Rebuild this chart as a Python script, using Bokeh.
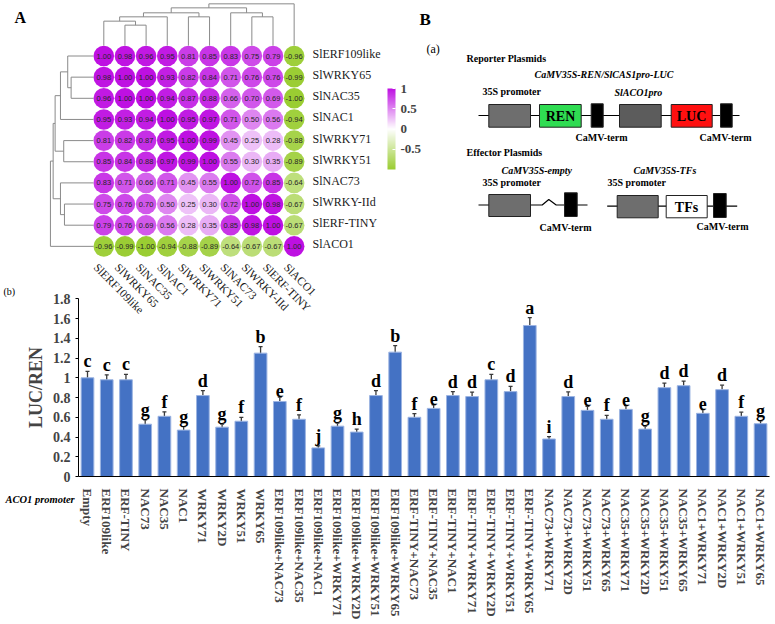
import numpy as np
from bokeh.plotting import figure
from bokeh.models import (Range1d, ColumnDataSource, Whisker, TeeHead, ColorBar,
                          LinearColorMapper, FixedTicker)
from bokeh.layouts import row, column
from bokeh.core.properties import value
from bokeh.embed import file_html
from bokeh.resources import INLINE

# ---------------- data: correlation heatmap ----------------
genes = ["SlERF109like", "SlWRKY65", "SlNAC35", "SlNAC1", "SlWRKY71",
         "SlWRKY51", "SlNAC73", "SlWRKY-IId", "SlERF-TINY", "SlACO1"]
corr = [
    [1.00, 0.98, 0.96, 0.95, 0.81, 0.85, 0.83, 0.75, 0.79, -0.96],
    [0.98, 1.00, 1.00, 0.93, 0.82, 0.84, 0.71, 0.76, 0.76, -0.99],
    [0.96, 1.00, 1.00, 0.94, 0.87, 0.88, 0.66, 0.70, 0.69, -1.00],
    [0.95, 0.93, 0.94, 1.00, 0.95, 0.97, 0.71, 0.50, 0.56, -0.94],
    [0.81, 0.82, 0.87, 0.95, 1.00, 0.99, 0.45, 0.25, 0.28, -0.88],
    [0.85, 0.84, 0.88, 0.97, 0.99, 1.00, 0.55, 0.30, 0.35, -0.89],
    [0.83, 0.71, 0.66, 0.71, 0.45, 0.55, 1.00, 0.72, 0.85, -0.64],
    [0.75, 0.76, 0.70, 0.50, 0.25, 0.30, 0.72, 1.00, 0.98, -0.67],
    [0.79, 0.76, 0.69, 0.56, 0.28, 0.35, 0.85, 0.98, 1.00, -0.67],
    [-0.96, -0.99, -1.00, -0.94, -0.88, -0.89, -0.64, -0.67, -0.67, 1.00],
]
# hierarchical clustering: merges (leaves 0-9, merged nodes 10+), relative heights
link_pairs = [(1, 2), (0, 10), (11, 3), (4, 5), (12, 13), (7, 8), (6, 15), (14, 16), (17, 9)]
col_link_heights = [0.49, 0.586, 0.689, 0.689, 0.785, 0.689, 0.785, 0.904, 1.0]
row_link_heights = [0.519, 0.598, 0.767, 0.691, 0.891, 0.674, 0.767, 0.937, 1.0]
cbar_ticks = [-0.5, 0, 0.5, 1]
cbar_labels = ["-0.5", "0", "0.5", "1"]

# ---------------- data: dual-luciferase bars ----------------
constructs = ["Empty", "ERF109like", "ERF-TINY", "NAC73", "NAC35", "NAC1", "WRKY71", "WRKY2D",
              "WRKY51", "WRKY65",
              "ERF109like+NAC73", "ERF109like+NAC35", "ERF109like+NAC1", "ERF109like+WRKY71",
              "ERF109like+WRKY2D", "ERF109like+WRKY51", "ERF109like+WRKY65",
              "ERF-TINY+NAC73", "ERF-TINY+NAC35", "ERF-TINY+NAC1", "ERF-TINY+WRKY71",
              "ERF-TINY+WRKY2D", "ERF-TINY+WRKY51", "ERF-TINY+WRKY65",
              "NAC73+WRKY71", "NAC73+WRKY2D", "NAC73+WRKY51", "NAC73+WRKY65",
              "NAC35+WRKY71", "NAC35+WRKY2D", "NAC35+WRKY51", "NAC35+WRKY65",
              "NAC1+WRKY71", "NAC1+WRKY2D", "NAC1+WRKY51", "NAC1+WRKY65"]
luc_ren = [1.00, 0.98, 0.98, 0.53, 0.61, 0.47, 0.82, 0.50, 0.56, 1.25,
           0.76, 0.58, 0.29, 0.51, 0.45, 0.82, 1.26,
           0.60, 0.69, 0.82, 0.81, 0.98, 0.86, 1.53,
           0.38, 0.81, 0.67, 0.58,
           0.68, 0.48, 0.90, 0.92,
           0.64, 0.88, 0.61, 0.535]
luc_err = [0.065, 0.05, 0.055, 0.045, 0.045, 0.035, 0.05, 0.03, 0.04, 0.065,
           0.045, 0.045, 0.02, 0.03, 0.03, 0.05, 0.065,
           0.037, 0.037, 0.04, 0.045, 0.054, 0.054, 0.08,
           0.025, 0.047, 0.042, 0.039,
           0.039, 0.03, 0.047, 0.047,
           0.037, 0.045, 0.042, 0.03]
sig_letters = ["c", "c", "c", "g", "f", "g", "d", "g", "f", "b",
               "e", "f", "j", "g", "h", "d", "b",
               "f", "e", "d", "d", "c", "d", "a",
               "i", "d", "e", "f",
               "e", "g", "d", "d",
               "e", "d", "f", "g"]
y_ticks = [0, 0.2, 0.4, 0.6, 0.8, 1, 1.2, 1.4, 1.6, 1.8]
y_tick_labels = ["0", "0.2", "0.4", "0.6", "0.8", "1", "1.2", "1.4", "1.6", "1.8"]

SERIF = value("Liberation Serif")
SANS = value("Liberation Sans")

# ---------------- colour map ----------------
def _hex(c):
    return "#%02x%02x%02x" % tuple(int(round(v)) for v in c)

neg_c = np.array([154, 205, 50]); mid_c = np.array([255, 255, 255]); pos_c = np.array([190, 16, 226])
palette = []
for t in np.linspace(-1, 1, 256):
    c = mid_c + (neg_c - mid_c) * (-t) if t < 0 else mid_c + (pos_c - mid_c) * t
    palette.append(_hex(c))
mapper = LinearColorMapper(palette=palette, low=-1, high=1)

# ---------------- page geometry ----------------
PAGE_W, PAGE_H = 775, 624
TOP_H = 262                 # height of the upper row
WA = 382                    # width of heatmap panel
S = 21.15                   # px per heatmap cell
CX0, CY0 = 103.3, 55.5      # page position of first cell centre
def X(px): return (px - CX0) / S
def Y(py): return (py - CY0) / S

# ---------------- Figure A: heatmap ----------------
pa = figure(width=WA, height=TOP_H, x_range=Range1d(X(0), X(WA)), y_range=Range1d(Y(TOP_H), Y(0)),
            output_backend="svg", toolbar_location=None, x_axis_location=None, y_axis_location=None,
            min_border=0, outline_line_color=None)
pa.grid.visible = False

n = len(genes)
xs, ys, rs, lbl = [], [], [], []
for j in range(n):
    for i in range(n):
        xs.append(i); ys.append(j); rs.append(corr[j][i]); lbl.append("%.2f" % corr[j][i])
hsrc = ColumnDataSource(dict(x=xs, y=ys, r=rs, lbl=lbl))
pa.scatter("x", "y", source=hsrc, marker="circle", size=20.6, line_color=None,
           fill_color={"field": "r", "transform": mapper})
pa.text("x", "y", text="lbl", source=hsrc, text_font=SANS, text_font_size="7.5px",
        text_align="center", text_baseline="middle", text_color="#262626")

def dendro_segments(pairs, heights, n_leaves):
    pos = {i: float(i) for i in range(n_leaves)}
    hgt = {i: 0.0 for i in range(n_leaves)}
    segs = []
    for k, ((a, b), h) in enumerate(zip(pairs, heights)):
        segs.append((pos[a], hgt[a], pos[a], h))
        segs.append((pos[b], hgt[b], pos[b], h))
        segs.append((pos[a], h, pos[b], h))
        pos[n_leaves + k] = (pos[a] + pos[b]) / 2.0
        hgt[n_leaves + k] = h
    return segs

base = -0.49
top_scale = 41.8 / S
left_scale = 43.0 / S
tsegs = dendro_segments(link_pairs, col_link_heights, n)
pa.segment(x0=[s[0] for s in tsegs], y0=[base - s[1] * top_scale for s in tsegs],
           x1=[s[2] for s in tsegs], y1=[base - s[3] * top_scale for s in tsegs],
           line_color="#8a8a8a", line_width=1)
lsegs = dendro_segments(link_pairs, row_link_heights, n)
pa.segment(y0=[s[0] for s in lsegs], x0=[base - s[1] * left_scale for s in lsegs],
           y1=[s[2] for s in lsegs], x1=[base - s[3] * left_scale for s in lsegs],
           line_color="#8a8a8a", line_width=1)

pa.text(x=[X(312)] * n, y=list(range(n)), text=genes, text_font=SERIF, text_font_size="12px",
        text_align="left", text_baseline="middle", text_color="#1a1a1a", y_offset=-2)
pa.text(x=[X(14)], y=[Y(17)], text=["A"], text_font=SERIF, text_font_style="bold",
        text_font_size="16px", text_align="left", text_baseline="middle")

# ---------------- Figure B: construct diagram ----------------
WB = PAGE_W - WA
pbd = figure(width=WB, height=TOP_H, x_range=Range1d(WA, PAGE_W), y_range=Range1d(TOP_H, 0),
             output_backend="svg", toolbar_location=None, x_axis_location=None, y_axis_location=None,
             min_border=0, outline_line_color=None)
pbd.grid.visible = False

cb = ColorBar(color_mapper=mapper, location=(5, TOP_H - 169), width=8, height=81, padding=0,
              ticker=FixedTicker(ticks=cbar_ticks),
              major_label_overrides=dict(zip(cbar_ticks, cbar_labels)),
              major_label_text_font="Liberation Serif", major_label_text_font_style="bold",
              major_label_text_font_size="13px", label_standoff=5,
              major_tick_line_color="white", major_tick_in=3, major_tick_out=0,
              bar_line_color=None, border_line_color=None, background_fill_alpha=0)
pbd.add_layout(cb)

pbd.line([478, 739], [115, 115], line_color="black", line_width=1.2)
pbd.line([478, 541.7, 548.3, 555.7, 587], [204.5, 204.5, 199, 204.5, 204.5], line_color="black", line_width=1.2)
pbd.line([606.7, 736.7], [205.7, 205.7], line_color="black", line_width=1.2)
boxes = [
    (488.3, 530.0, 104.0, 126.7, "#6e6e6e"),
    (539.0, 580.7, 104.0, 126.7, "#2fdc52"),
    (590.7, 602.7, 103.3, 126.7, "#000000"),
    (619.0, 660.7, 104.0, 126.7, "#5c5c5c"),
    (670.7, 711.7, 104.0, 126.7, "#ff1010"),
    (720.0, 731.7, 103.3, 126.7, "#000000"),
    (488.3, 530.0, 194.0, 216.0, "#6e6e6e"),
    (564.0, 576.7, 192.3, 216.0, "#000000"),
    (616.7, 657.7, 195.0, 217.3, "#6e6e6e"),
    (665.7, 706.7, 195.0, 217.3, "#ffffff"),
    (713.0, 725.7, 193.0, 217.0, "#000000"),
]
pbd.quad(left=[b[0] for b in boxes], right=[b[1] for b in boxes], top=[b[2] for b in boxes],
         bottom=[b[3] for b in boxes], fill_color=[b[4] for b in boxes], line_color="#222222", line_width=1)

def dtext(x, y, t, style="bold", size="10px", align="left"):
    pbd.text(x=[x], y=[y], text=[t], text_font=SERIF, text_font_style=style, text_font_size=size,
             text_align=align, text_baseline="middle", text_color="black")

dtext(419, 19, "B", size="17px")
dtext(426, 48, "(a)", style="normal", size="12px")
dtext(466, 57.5, "Reporter Plasmids")
dtext(534, 74, "CaMV35S-REN/SlCAS1pro-LUC", style="bold italic")
dtext(482, 91, "35S promoter")
dtext(614, 92, "SlACO1pro", style="bold italic")
dtext(560, 116, "REN", size="14px", align="center")
dtext(691, 116, "LUC", size="14px", align="center")
dtext(575, 137, "CaMV-term")
dtext(699, 137, "CaMV-term")
dtext(466, 152, "Effector Plasmids")
dtext(501, 169.5, "CaMV35S-empty", style="bold italic")
dtext(633, 169.5, "CaMV35S-TFs", style="bold italic")
dtext(482, 182, "35S promoter")
dtext(607, 182, "35S promoter")
dtext(686, 206.5, "TFs", size="14px", align="center")
dtext(539, 227, "CaMV-term")
dtext(696, 226, "CaMV-term")

# ---------------- Figure C: bar chart (frame = whole panel, axes at fixed locations) ----------------
HC = PAGE_H - TOP_H
AX_L, AX_R, AX_BOT = 78, 769, 476          # page positions of the axis lines
BAR0_PX, BAR_STEP = 87.0, 19.23            # page x of first bar centre, spacing
PX_PER_UNIT = 98.7
def BX(px): return (px - BAR0_PX) / BAR_STEP
def BY(py): return (AX_BOT - py) / PX_PER_UNIT

idx = list(range(len(constructs)))
bsrc = ColumnDataSource(dict(i=idx, v=luc_ren,
                             up=[v + e for v, e in zip(luc_ren, luc_err)],
                             lo=[v - e for v, e in zip(luc_ren, luc_err)],
                             sig=sig_letters))
pc = figure(width=PAGE_W, height=HC,
            x_range=Range1d(BX(0), BX(PAGE_W)), y_range=Range1d(BY(PAGE_H), BY(TOP_H)),
            output_backend="svg", toolbar_location=None, min_border=0, outline_line_color=None)
pc.grid.visible = False
pc.extra_x_ranges = {"hx": Range1d(X(0), X(PAGE_W))}
pc.extra_y_ranges = {"hy": Range1d(Y(PAGE_H), Y(TOP_H))}

# heatmap column labels (continuation of panel A)
pc.text(x=[i - 8 / S for i in range(n)], y=[Y(265)] * n, text=genes, text_font=SERIF,
        text_font_size="11.5px", text_align="left", text_baseline="middle", angle=-np.pi / 4,
        text_color="#1a1a1a", x_range_name="hx", y_range_name="hy")

pc.vbar(x="i", top="v", width=0.66, source=bsrc, fill_color="#4472C4", line_color="#9cb4e2", line_width=1)
pc.add_layout(Whisker(base="i", upper="up", lower="lo", source=bsrc, line_color="#3a3a3a", line_width=1.3,
                      upper_head=TeeHead(size=4, line_color="#3a3a3a", line_width=1.3),
                      lower_head=TeeHead(size=4, line_color="#3a3a3a", line_width=1.3)))
pc.text(x="i", y="up", text="sig", source=bsrc, text_font=SERIF, text_font_style="bold",
        text_font_size="18px", text_align="center", text_baseline="bottom")

ya = pc.yaxis[0]
ya.fixed_location = BX(AX_L)
ya.bounds = (0, 1.8)
ya.ticker = FixedTicker(ticks=y_ticks)
ya.major_label_overrides = dict(zip(y_ticks, y_tick_labels))
ya.major_label_text_font = "Liberation Serif"
ya.major_label_text_font_style = "bold"
ya.major_label_text_font_size = "14px"
ya.major_tick_out = 3
ya.major_tick_in = 0
ya.minor_tick_line_color = None
ya.major_label_standoff = 5
ya.axis_label = "LUC/REN"
ya.axis_label_text_font = "Liberation Serif"
ya.axis_label_text_font_style = "bold"
ya.axis_label_text_font_size = "18px"
ya.axis_label_standoff = 4
ya.axis_line_color = "black"

xa = pc.xaxis[0]
xa.fixed_location = 0
xa.bounds = (BX(AX_L), BX(AX_R))
xa.ticker = FixedTicker(ticks=idx)
xa.major_label_overrides = dict(zip(idx, constructs))
xa.major_label_orientation = "vertical"
xa.major_label_text_font = "Liberation Serif"
xa.major_label_text_font_style = "bold"
xa.major_label_text_font_size = "13px"
xa.major_tick_line_color = None
xa.minor_tick_line_color = None
xa.major_label_standoff = 6
xa.axis_line_color = "black"

pc.text(x=[BX(3)], y=[BY(291)], text=["(b)"], text_font=SERIF, text_font_size="10px",
        text_align="left", text_baseline="middle")
pc.text(x=[BX(5)], y=[BY(499)], text=["ACO1 promoter"], text_font=SERIF, text_font_style="bold italic",
        text_font_size="10.5px", text_align="left", text_baseline="middle")

layout = column(row(pa, pbd), pc)
open("out.html", "w").write(file_html(layout, INLINE))
